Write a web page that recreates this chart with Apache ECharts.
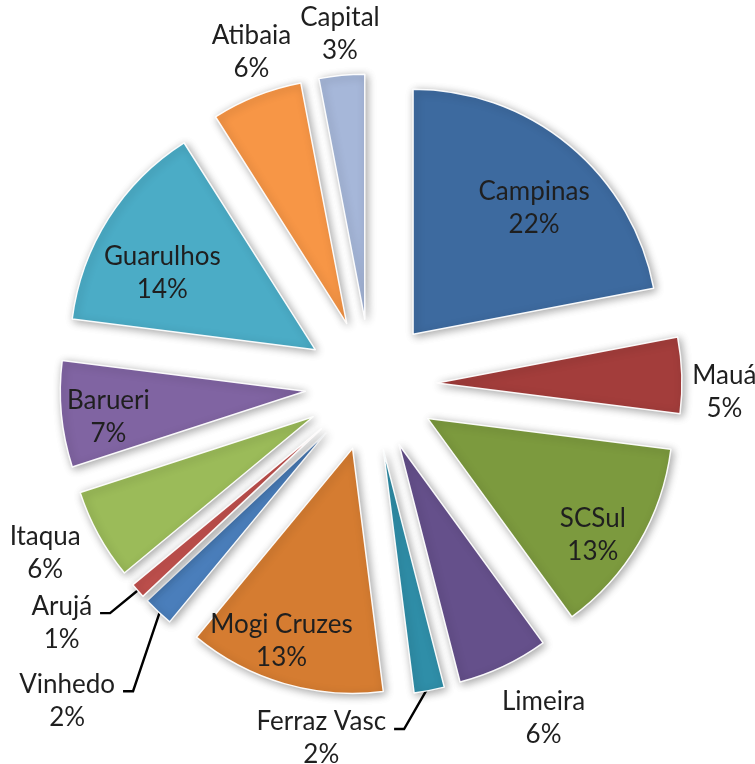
<!DOCTYPE html>
<html>
<head>
<meta charset="utf-8">
<script src="https://cdn.jsdelivr.net/npm/echarts@6/dist/echarts.min.js"></script>
<style>
  html, body { margin: 0; padding: 0; background: #ffffff; }
  #chart { width: 755px; height: 764px; }
</style>
</head>
<body>
<div id="chart"></div>
<script>
// Share of each city (%), clockwise from 12 o'clock
const cities = ['Campinas', 'Mauá', 'SCSul', 'Limeira', 'Ferraz Vasc', 'Mogi Cruzes',
                'Vinhedo', 'Arujá', 'Itaqua', 'Barueri', 'Guarulhos', 'Atibaia', 'Capital'];
const shares = [22, 5, 13, 6, 2, 13, 2, 1, 6, 7, 14, 6, 3];

// Slice colours
const sliceColors = ['#3D6A9F', '#A33D3B', '#7C9A3E', '#65508B', '#2F8EA8', '#D57C31',
                     '#4A7EBB', '#C0504D', '#9BBB59', '#8064A2', '#4BACC6', '#F79646', '#A6B7D9'];

// Label nudges (px) away from the default inside spot
const labelShift = [[41, -29], [162, 13], [57, 53], [91, 160], [0, 0], [-36, 72],
                    [0, 0], [0, 0], [-158, 76], [-72, 14], [-47, -9], [-49, -155], [-13, -160]];
// Slices whose label sits off the rim, tied to the slice by a leader line,
// with the label centre offset (px) from the slice's outer rim point
const leaderSlices = { 'Ferraz Vasc': [-108, 48], 'Vinhedo': [-91, 89], 'Arujá': [-76, 32] };

const CENTER = [371, 385];
const RADIUS = 245;
const EXPLODE = 66;
const FONT_SIZE = 26;
const LINE_HEIGHT = 33;

// mid angle of each slice (radians, clockwise from 12 o'clock)
const total = shares.reduce((a, b) => a + b, 0);
const midAngles = [];
let acc = 0;
shares.forEach(v => { midAngles.push((acc + v / 2) / total * Math.PI * 2); acc += v; });

// point at distance `dist` from the exploded slice's apex, along its mid angle
function alongSlice(i, dist) {
  const a = midAngles[i];
  return [CENTER[0] + Math.sin(a) * (EXPLODE + dist), CENTER[1] - Math.cos(a) * (EXPLODE + dist)];
}

const hidden = {
  itemStyle: { color: 'rgba(0,0,0,0)', borderWidth: 0, shadowBlur: 0, shadowColor: 'rgba(0,0,0,0)' },
  label: { show: false },
  labelLine: { show: false }
};

// One pie per slice, each pulled out from the centre along its own mid angle;
// every pie carries all values so the angles are shared, but shows one slice.
const series = cities.map((city, k) => {
  const leader = city in leaderSlices;
  return {
    type: 'pie',
    center: alongSlice(k, 0),
    radius: [0, RADIUS],
    startAngle: 90,
    clockwise: true,
    avoidLabelOverlap: false,
    silent: true,
    emphasis: { disabled: true },
    itemStyle: {
      borderColor: 'rgba(255,255,255,0.95)',
      borderWidth: 1.5,
      shadowBlur: 8,
      shadowColor: 'rgba(0,0,0,0.35)',
      shadowOffsetX: 2,
      shadowOffsetY: 2
    },
    label: {
      show: true,
      position: leader ? 'outside' : 'inside',
      formatter: p => p.name + '\n' + p.value + '%',
      fontFamily: 'Lato',
      fontSize: FONT_SIZE,
      lineHeight: LINE_HEIGHT,
      color: '#1f1f1f',
      align: 'center'
    },
    labelLine: {
      show: leader,
      lineStyle: { color: '#000000', width: 2.4 }
    },
    labelLayout: p => {
      if (p.dataIndex !== k) return {};
      if (leader) {
        const off = leaderSlices[city];
        const rim = alongSlice(k, RADIUS);
        const cx = rim[0] + off[0];
        const cy = rim[1] + off[1];
        const start = alongSlice(k, RADIUS - 4);
        const end = [cx + p.labelRect.width / 2 + 8, cy - LINE_HEIGHT / 2 + 7];
        return {
          x: cx, y: cy, align: 'center', verticalAlign: 'middle',
          labelLinePoints: [start, [end[0] + 10, end[1]], end]
        };
      }
      const s = labelShift[k];
      return { dx: s[0], dy: s[1] };
    },
    data: cities.map((name, i) => i === k
      ? {
          name, value: shares[i],
          itemStyle: { color: sliceColors[i] },
          labelLine: { lineStyle: { color: '#000000', width: 2.4 } }
        }
      : Object.assign({ name, value: shares[i] }, hidden))
  };
});

const chart = echarts.init(document.getElementById('chart'));
chart.setOption({
  animation: false,
  backgroundColor: '#ffffff',
  series
});
</script>
</body>
</html>
